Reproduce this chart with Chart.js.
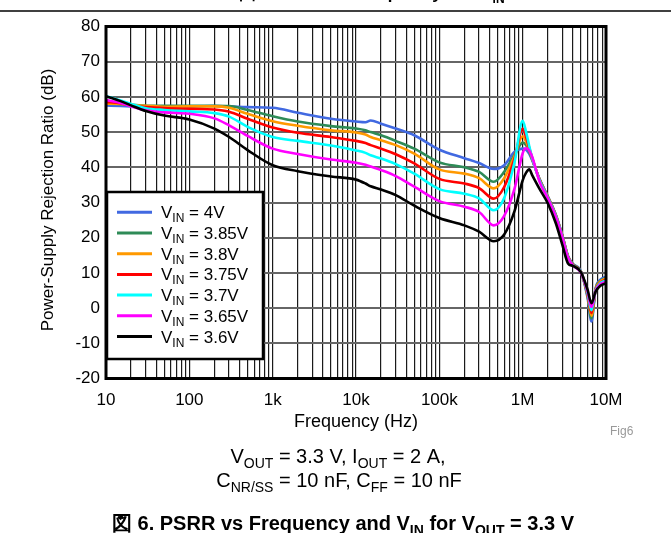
<!DOCTYPE html>
<html>
<head>
<meta charset="utf-8">
<script src="https://cdn.jsdelivr.net/npm/chart.js@4.4.1/dist/chart.umd.min.js"></script>
<style>
  html, body { margin: 0; padding: 0; background: #fff; }
  #wrap { width: 671px; height: 533px; }
</style>
</head>
<body>
<div id="wrap"><canvas id="psrr" width="671" height="533"></canvas></div>
<script>
// frequency points (Hz)
const freq = [10, 15, 20, 30, 50, 100, 200, 300, 500, 1e3, 2e3, 5e3, 1e4, 1.3e4, 1.5e4, 2e4, 3e4, 5e4,
  1e5, 2e5, 3e5, 4.5e5, 6e5, 8e5, 1e6, 1.1e6, 1.2e6, 1.3e6, 1.6e6, 2e6, 2.5e6, 3e6, 3.5e6, 4e6, 5e6,
  6e6, 6.7e6, 7.5e6, 8.5e6, 1e7];

// PSRR (dB) per input voltage
const vin4 = [57.6, 57.4, 57.3, 57.1, 57.1, 57.2, 57.4, 57.3, 57.1, 56.9, 55.5, 53.8, 53.0, 52.8, 53.3, 52.4, 51.0, 49.1,
  45.0, 42.6, 41.2, 39.5, 40.6, 44.4, 45.3, 45.0, 43.8, 42.0, 36.6, 31.8, 26.5, 20.6, 14.8, 12.6, 10.4,
  3.0, -3.8, 5.6, 8.0, 8.9];
const vin385 = [58.1, 58.0, 57.8, 57.5, 57.5, 57.5, 57.5, 57.4, 56.3, 54.5, 53.0, 51.7, 51.0, 50.5, 50.0, 49.1, 47.5, 45.3,
  41.4, 40.0, 38.7, 35.9, 38.7, 43.6, 47.0, 46.3, 44.5, 42.3, 36.5, 31.7, 26.4, 20.5, 14.7, 12.5, 10.4,
  3.5, -2.9, 5.4, 7.7, 8.6];
const vin38 = [58.1, 58.0, 57.7, 57.5, 57.2, 57.3, 57.3, 56.9, 55.2, 53.1, 51.8, 50.5, 49.9, 49.3, 48.6, 47.7, 46.3, 43.9,
  39.4, 38.2, 36.9, 34.0, 36.9, 43.2, 48.8, 47.3, 45.0, 42.5, 36.4, 31.6, 26.3, 20.4, 14.6, 12.4, 10.3,
  3.8, -2.2, 5.3, 7.5, 8.4];
const vin375 = [58.6, 58.2, 57.5, 57.1, 56.8, 56.6, 56.4, 55.8, 53.8, 51.3, 49.8, 48.6, 47.5, 46.9, 46.3, 45.3, 43.7, 41.1,
  36.7, 35.4, 34.1, 31.1, 34.4, 42.5, 51.0, 48.5, 45.5, 42.6, 36.3, 31.5, 26.2, 20.3, 14.5, 12.3, 10.3,
  4.1, -1.4, 5.1, 7.2, 8.1];
const vin37 = [60.2, 59.0, 58.0, 56.8, 56.3, 55.9, 55.4, 54.4, 51.5, 48.6, 47.5, 46.2, 44.8, 44.1, 43.4, 42.5, 40.9, 38.2,
  33.8, 32.5, 31.2, 27.8, 31.3, 41.5, 53.2, 50.0, 46.0, 42.7, 36.2, 31.4, 26.1, 20.2, 14.4, 12.2, 10.2,
  4.4, -0.6, 5.0, 7.0, 7.8];
const vin365 = [59.1, 58.3, 57.3, 56.2, 55.6, 55.2, 53.9, 51.9, 48.9, 45.3, 43.8, 42.2, 41.3, 40.7, 40.2, 39.2, 37.5, 34.5,
  30.4, 28.8, 27.3, 23.5, 26.2, 34.0, 44.0, 45.4, 44.8, 43.0, 35.8, 31.2, 25.9, 20.0, 14.3, 12.1, 10.1,
  4.8, 0.3, 4.9, 6.7, 7.5];
const vin36 = [60.2, 58.8, 57.6, 56.0, 54.7, 53.6, 51.0, 48.6, 44.9, 40.6, 38.9, 37.4, 36.5, 35.4, 34.6, 33.7, 32.1, 29.1,
  25.6, 23.5, 21.7, 19.0, 20.9, 27.6, 36.3, 38.5, 39.4, 37.8, 33.8, 29.8, 24.1, 17.9, 12.7, 12.0, 10.2,
  5.3, 1.4, 4.7, 6.3, 7.0];

const seriesNames = ['4V', '3.85V', '3.8V', '3.75V', '3.7V', '3.65V', '3.6V'];
const seriesColors = ['#4169E1', '#2E8B57', '#FF9900', '#FF0000', '#00FFFF', '#FF00FF', '#000000'];
const seriesValues = [vin4, vin385, vin38, vin375, vin37, vin365, vin36];

// axis ticks
const xMajor = [10, 100, 1e3, 1e4, 1e5, 1e6, 1e7];
const xMajorLabels = ['10', '100', '1k', '10k', '100k', '1M', '10M'];
const yMin = -20, yMax = 80, yStep = 10;

const FONT = '"Liberation Sans", Arial, sans-serif';

// every 1..9 per decade for the grid
const xGrid = [];
for (let e = 1; e < 7; e++) {
  for (let m = 1; m < 10; m++) xGrid.push(m * Math.pow(10, e));
}
xGrid.push(1e7);

// text with subscripts: parts = [[text, isSub], ...]
function drawRich(ctx, parts, x, y, size, align, bold) {
  const w = bold ? 'bold ' : '';
  const mainFont = w + size + 'px ' + FONT;
  const subFont = w + Math.round(size * 0.72) + 'px ' + FONT;
  let total = 0;
  parts.forEach(p => { ctx.font = p[1] ? subFont : mainFont; total += ctx.measureText(p[0]).width; });
  let cx = align === 'center' ? x - total / 2 : (align === 'right' ? x - total : x);
  ctx.textAlign = 'left';
  ctx.textBaseline = 'alphabetic';
  parts.forEach(p => {
    ctx.font = p[1] ? subFont : mainFont;
    ctx.fillText(p[0], cx, p[1] ? y + size * 0.24 : y);
    cx += ctx.measureText(p[0]).width;
  });
}

const decor = {
  id: 'decor',
  beforeDraw(chart) {
    const ctx = chart.ctx;
    ctx.save();
    ctx.fillStyle = '#fff';
    ctx.fillRect(0, 0, chart.width, chart.height);
    ctx.restore();
  },
  afterDatasetsDraw(chart) {
    const ctx = chart.ctx;
    const a = chart.chartArea;
    ctx.save();
    // frame
    ctx.strokeStyle = '#000';
    ctx.lineWidth = 3;
    ctx.strokeRect(a.left, a.top, a.right - a.left, a.bottom - a.top);

    // legend box
    ctx.fillStyle = '#fff';
    ctx.fillRect(107, 192, 156, 167);
    ctx.lineWidth = 2.5;
    ctx.strokeRect(107, 192, 156, 167);
    seriesNames.forEach((name, i) => {
      const ry = 212.3 + i * 20.7;
      ctx.strokeStyle = seriesColors[i];
      ctx.lineWidth = 3;
      ctx.beginPath();
      ctx.moveTo(117, ry);
      ctx.lineTo(152, ry);
      ctx.stroke();
      ctx.fillStyle = '#000';
      drawRich(ctx, [['V', false], ['IN', true], [' = ' + name, false]], 161, ry + 6, 17, 'left', false);
    });
    ctx.restore();
  },
  afterDraw(chart) {
    const ctx = chart.ctx;
    ctx.save();
    ctx.fillStyle = '#000';

    // previous caption, cut off at the top, and the rule under it
    drawRich(ctx, [['図 5. PSRR vs Frequency and V', false], ['IN', true]], 372, -1.5, 17, 'center', true);
    ctx.strokeStyle = '#000';
    ctx.lineWidth = 1.5;
    ctx.beginPath();
    ctx.moveTo(0, 11);
    ctx.lineTo(671, 11);
    ctx.stroke();

    // axis titles
    ctx.font = '18px ' + FONT;
    ctx.textAlign = 'center';
    ctx.textBaseline = 'alphabetic';
    ctx.fillText('Frequency (Hz)', 356, 427);

    ctx.save();
    ctx.translate(48, 200);
    ctx.rotate(-Math.PI / 2);
    ctx.font = '17px ' + FONT;
    ctx.textBaseline = 'middle';
    ctx.fillText('Power-Supply Rejection Ratio (dB)', 0, 0);
    ctx.restore();

    // figure tag
    ctx.fillStyle = '#999';
    ctx.font = '12px ' + FONT;
    ctx.textAlign = 'left';
    ctx.fillText('Fig6', 610, 435);

    // conditions
    ctx.fillStyle = '#000';
    drawRich(ctx, [['V', false], ['OUT', true], [' = 3.3 V, I', false], ['OUT', true], [' = 2 A,', false]], 338, 463, 20, 'center', false);
    drawRich(ctx, [['C', false], ['NR/SS', true], [' = 10 nF, C', false], ['FF', true], [' = 10 nF', false]], 339, 487, 20, 'center', false);

    // caption
    drawRich(ctx, [['図 6. PSRR vs Frequency and V', false], ['IN', true], [' for V', false], ['OUT', true], [' = 3.3 V', false]],
      343, 530, 20, 'center', true);
    ctx.restore();
  }
};

new Chart(document.getElementById('psrr'), {
  type: 'line',
  data: {
    datasets: seriesValues.map((vals, i) => ({
      label: 'VIN = ' + seriesNames[i],
      data: freq.map((f, j) => ({ x: f, y: vals[j] })),
      borderColor: seriesColors[i],
      borderWidth: 2.6,
      pointRadius: 0,
      cubicInterpolationMode: 'monotone',
      fill: false,
      order: seriesValues.length - i
    }))
  },
  options: {
    responsive: false,
    animation: false,
    devicePixelRatio: 1,
    layout: { padding: { left: 0, top: 26.5, right: 65, bottom: 104.5 } },
    plugins: { legend: { display: false }, tooltip: { enabled: false } },
    scales: {
      x: {
        type: 'logarithmic',
        min: 10,
        max: 1e7,
        afterBuildTicks: (s) => { s.ticks = xGrid.map(v => ({ value: v, major: xMajor.includes(v) })); },
        afterFit: (s) => { s.height = 50; },
        ticks: {
          autoSkip: false,
          maxRotation: 0,
          minRotation: 0,
          padding: 12,
          color: '#000',
          font: { family: FONT, size: 17 },
          callback: (v) => {
            const k = xMajor.indexOf(v);
            return k >= 0 ? xMajorLabels[k] : '';
          }
        },
        grid: { color: '#1a1a1a', lineWidth: 1.2, drawTicks: false },
        border: { display: false }
      },
      y: {
        min: yMin,
        max: yMax,
        afterFit: (s) => { s.width = 106; },
        ticks: {
          stepSize: yStep,
          padding: 6,
          color: '#000',
          font: { family: FONT, size: 17 }
        },
        grid: { color: '#666', lineWidth: 2, drawTicks: false },
        border: { display: false }
      }
    }
  },
  plugins: [decor]
});
</script>
</body>
</html>
